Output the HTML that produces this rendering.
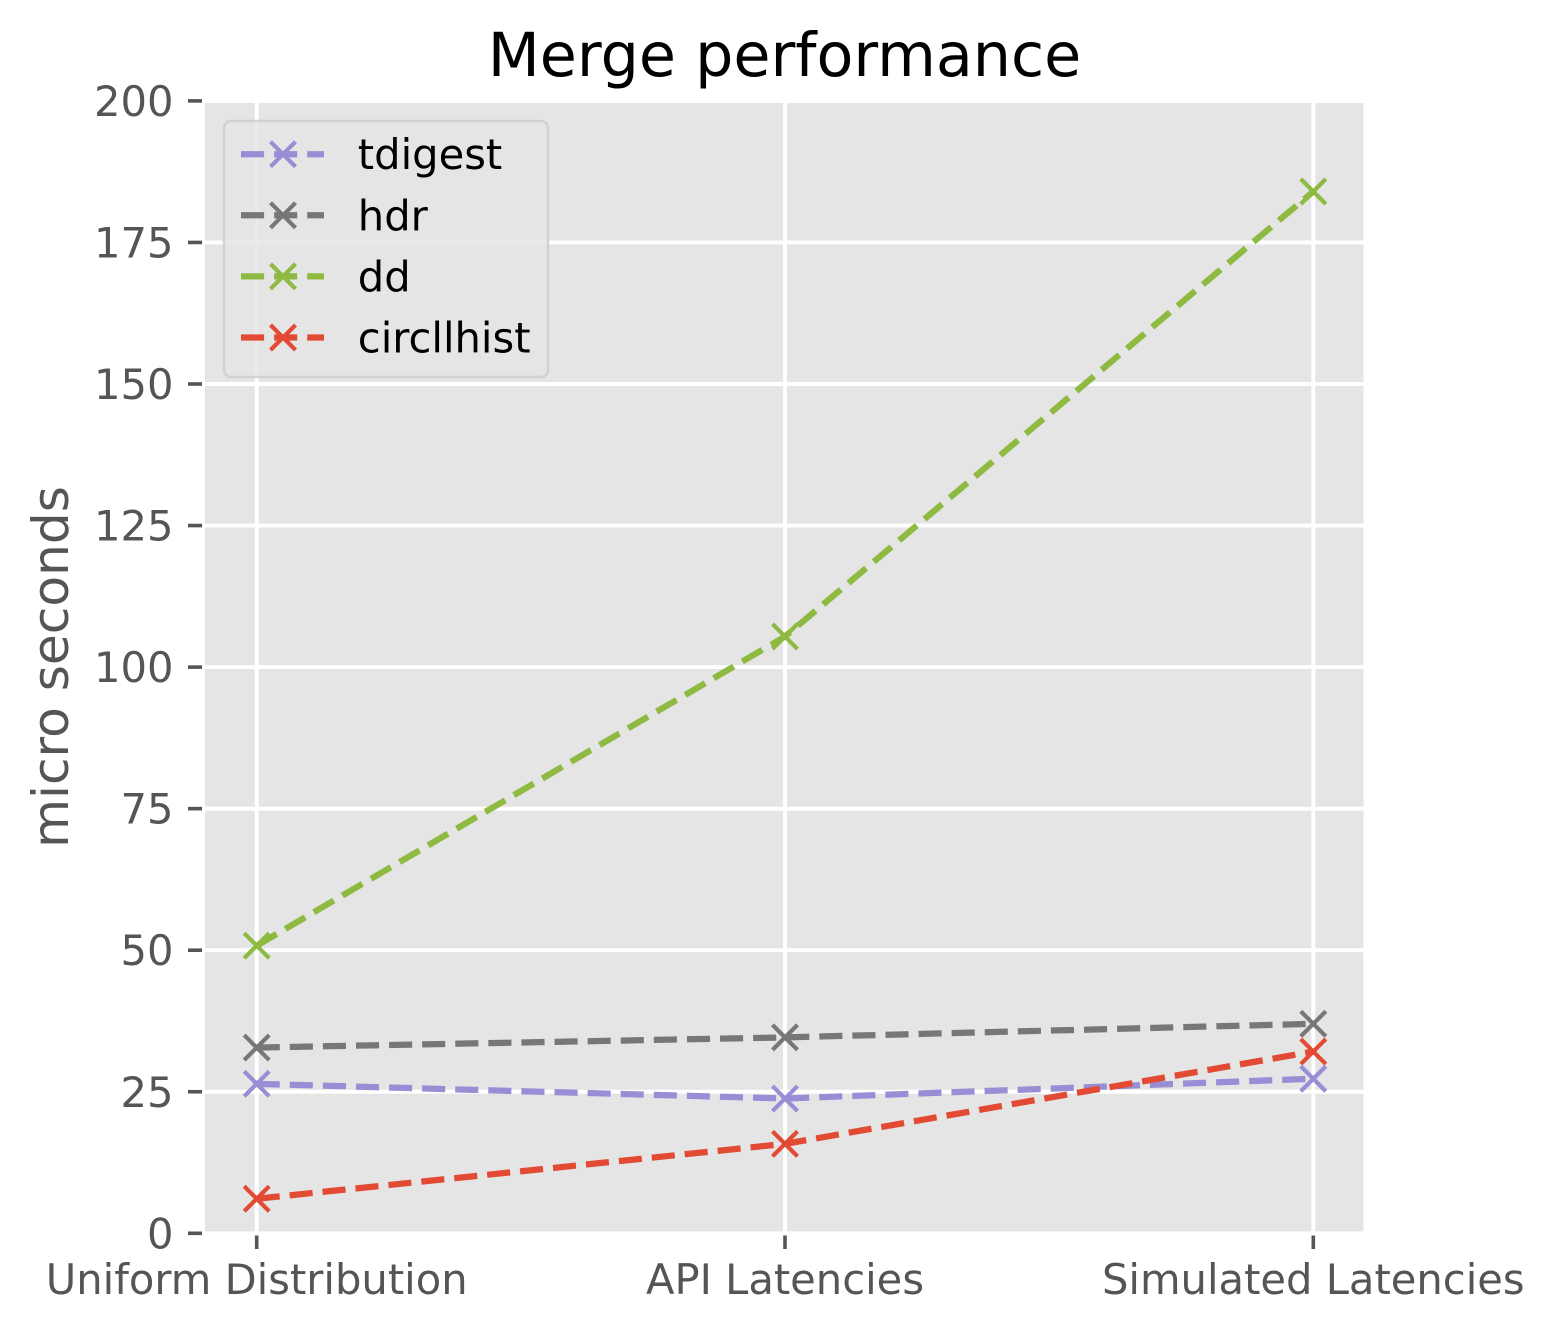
<!DOCTYPE html>
<html>
<head>
<meta charset="utf-8">
<title>Merge performance</title>
<style>
html,body{margin:0;padding:0;background:#fff;}
svg{display:block;}
text{font-family:"DejaVu Sans","Liberation Sans",sans-serif;}
</style>
</head>
<body>
<svg id="chart" xmlns="http://www.w3.org/2000/svg" width="1554" height="1332" viewBox="0 0 1554 1332"></svg>
<script>
const categories = ["Uniform Distribution", "API Latencies", "Simulated Latencies"];
const yTicks = [0, 25, 50, 75, 100, 125, 150, 175, 200];
const seriesNames = ["tdigest", "hdr", "dd", "circllhist"];
const tdigest = [26.4, 23.8, 27.3];
const hdr = [32.8, 34.6, 37.0];
const dd = [50.8, 105.4, 184.0];
const circllhist = [6.1, 15.8, 32.1];
const colors = {tdigest:"#988ed5", hdr:"#777777", dd:"#8eba42", circllhist:"#e24a33"};
const seriesValues = {tdigest, hdr, dd, circllhist};

const NS = "http://www.w3.org/2000/svg";
const svg = document.getElementById("chart");
const plot = {left:205, right:1363.5, top:100.9, bottom:1233.3};
function xPos(i){ return 256.7 + i * (1313.3 - 256.7) / (categories.length - 1); }
function yPos(v){ return plot.bottom - (v / 200) * (plot.bottom - plot.top); }
function mk(tag, attrs, parent){
  const el = document.createElementNS(NS, tag);
  for (const k in attrs) el.setAttribute(k, attrs[k]);
  (parent || svg).appendChild(el);
  return el;
}
function group(name){
  const g = mk("g", {});
  
  
  return g;
}
function drawX(parent, cx, cy, color){
  const h = 12.5;
  const p = mk("path", {d:`M${cx-h} ${cy-h}L${cx+h} ${cy+h}M${cx-h} ${cy+h}L${cx+h} ${cy-h}`, stroke:color, "stroke-width":4.17, fill:"none"}, parent);
  
  
}

const bg = mk("rect", {x:plot.left, y:plot.top, width:plot.right-plot.left, height:plot.bottom-plot.top, fill:"#e5e5e5"});



const gridG = group('grid-lines');
yTicks.forEach(function(t){
  const l = mk("line", {x1:plot.left, x2:plot.right, y1:yPos(t), y2:yPos(t), stroke:"#fff", "stroke-width":3.9}, gridG);
  
  
});
categories.forEach(function(c, i){
  const l = mk("line", {x1:xPos(i), x2:xPos(i), y1:plot.top, y2:plot.bottom, stroke:"#fff", "stroke-width":3.9}, gridG);
  
  
});

const yAxis = group('y-axis');
yTicks.forEach(function(t){
  const y = yPos(t);
  const l = mk("line", {x1:188, x2:202, y1:y, y2:y, stroke:"#555555", "stroke-width":3.6}, yAxis);
  
  
  const tx = mk("text", {x:173.5, y:y+15, "text-anchor":"end", "font-size":41.67, fill:"#555555"}, yAxis);
  
  
  tx.textContent = String(t);
});

const xAxis = group('x-axis');
categories.forEach(function(c, i){
  const x = xPos(i);
  const l = mk("line", {x1:x, x2:x, y1:1235.5, y2:1249, stroke:"#555555", "stroke-width":3.6}, xAxis);
  
  
  const tx = mk("text", {x:x, y:1294, "text-anchor":"middle", "font-size":41.67, fill:"#555555"}, xAxis);
  
  
  tx.textContent = c;
});

seriesNames.forEach(function(name){
  const g = group('series-' + name);
  const vals = seriesValues[name];
  const d = vals.map(function(v, i){ return (i ? "L" : "M") + xPos(i) + " " + yPos(v); }).join("");
  const p = mk("path", {d:d, fill:"none", stroke:colors[name], "stroke-width":6.25, "stroke-dasharray":"23.1 10"}, g);
  
  
  vals.forEach(function(v, i){ drawX(g, xPos(i), yPos(v), colors[name]); });
});

const title = mk("text", {x:784.5, y:76, "text-anchor":"middle", "font-size":60.3, fill:"#000"});


title.textContent = "Merge performance";

const yTitle = mk("text", {x:0, y:0, transform:"translate(68,667) rotate(-90)", "text-anchor":"middle", "font-size":50.2, fill:"#555555"});


yTitle.textContent = "micro seconds";

const legend = group('legend');
const legendBox = mk("rect", {x:224, y:121, width:324, height:256, rx:7, ry:7, fill:"#e5e5e5", "fill-opacity":0.8, stroke:"#cccccc", "stroke-opacity":0.8, "stroke-width":2.5}, legend);


seriesNames.forEach(function(name, i){
  const y = 154.2 + i * 61.1;
  const entry = mk("g", {}, legend);
  
  
  const l = mk("line", {x1:241, x2:324, y1:y, y2:y, stroke:colors[name], "stroke-width":6.25, "stroke-dasharray":"23.1 10"}, entry);
  
  
  drawX(entry, 283, y, colors[name]);
  const tx = mk("text", {x:357.8, y:y+15, "font-size":41.67, fill:"#000"}, entry);
  
  
  tx.textContent = name;
});
</script>
</body>
</html>
